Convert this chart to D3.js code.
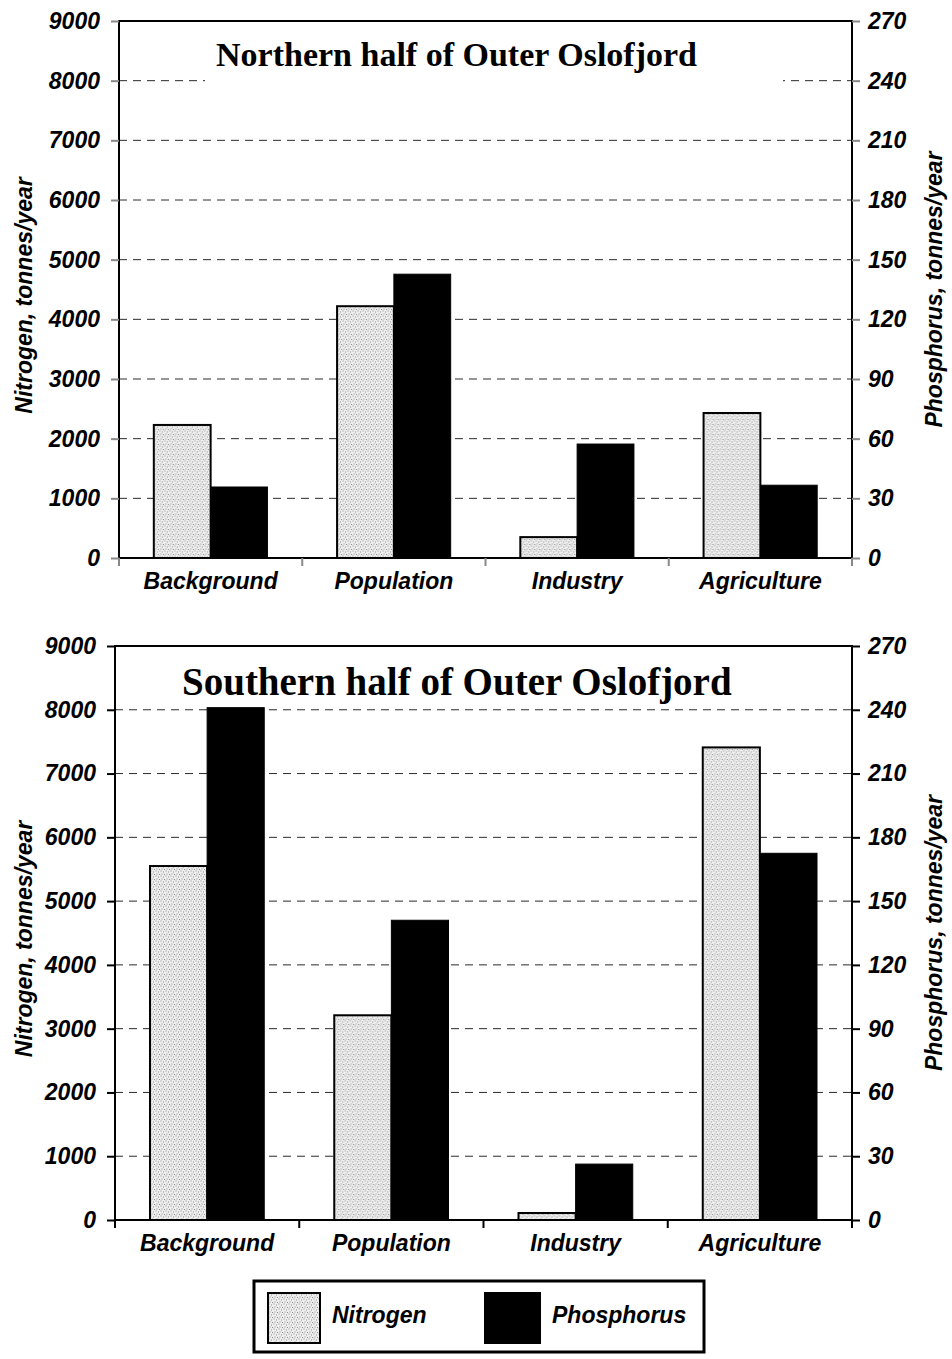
<!DOCTYPE html>
<meta charset="utf-8">
<style type="text/css">
  body {
    margin: 0;
    background: #fff;
  }
  .tick text, .cat text, .axis-title, .legend text {
    font-family: "Liberation Sans", Arial, sans-serif;
    font-weight: bold;
    font-style: italic;
    fill: #000;
  }
  .title {
    font-family: "Liberation Serif", "Times New Roman", serif;
    font-weight: bold;
    fill: #000;
  }
  .grid line {
    stroke: #2a2a2a;
    stroke-width: 1;
    stroke-dasharray: 8 6;
  }
</style>
<body>
<svg id="chart"></svg>
<script src="https://d3js.org/d3.v7.min.js"></script>
<script>
var categories = ["Background", "Population", "Industry", "Agriculture"];
var series = ["Nitrogen", "Phosphorus"];

// Northern half (N on left axis, P on right axis)
var northNitrogen = [2230, 4220, 350, 2430];
var northPhosphorus = [35.7, 142.7, 57.3, 36.6];

// Southern half
var southNitrogen = [5550, 3210, 110, 7410];
var southPhosphorus = [241, 141, 26.3, 172.5];

var nitrogenTicks = [0, 1000, 2000, 3000, 4000, 5000, 6000, 7000, 8000, 9000];
var phosphorusTicks = [0, 30, 60, 90, 120, 150, 180, 210, 240, 270];

var svg = d3.select("#chart")
    .attr("width", 952)
    .attr("height", 1359);

// stipple fill for nitrogen bars
var pat = svg.append("defs").append("pattern")
    .attr("id", "stipple")
    .attr("patternUnits", "userSpaceOnUse")
    .attr("width", 5)
    .attr("height", 5);
pat.append("rect").attr("width", 5).attr("height", 5).attr("fill", "#efefef");
[[0.5, 0.5], [3, 1.5], [1.5, 3.5], [4, 4]].forEach(function(p) {
  pat.append("rect")
      .attr("x", p[0]).attr("y", p[1])
      .attr("width", 1).attr("height", 1)
      .attr("fill", "#8a8a8a");
});

function drawChart(opt) {
  var x = d3.scaleBand()
      .domain(categories)
      .range([opt.left, opt.right])
      .paddingInner(0.38)
      .paddingOuter(0.19);

  var x1 = d3.scaleBand()
      .domain(series)
      .range([0, x.bandwidth()]);

  var y = d3.scaleLinear()
      .domain([0, 9000])
      .range([opt.bottom, opt.top]);

  var y2 = d3.scaleLinear()
      .domain([0, 270])
      .range([opt.bottom, opt.top]);

  var g = svg.append("g");

  // dashed grid
  g.append("g")
      .attr("class", "grid")
    .selectAll("line")
    .data(nitrogenTicks.slice(1, -1))
    .enter().append("line")
      .attr("x1", opt.left)
      .attr("x2", opt.right)
      .attr("y1", function(d) { return y(d); })
      .attr("y2", function(d) { return y(d); });

  // white box behind title
  if (opt.box) {
    g.append("rect")
        .attr("x", opt.box[0])
        .attr("y", opt.box[1])
        .attr("width", opt.box[2])
        .attr("height", opt.box[3])
        .attr("fill", "#fff");
  }

  g.append("text")
      .attr("class", "title")
      .attr("x", opt.titleX)
      .attr("y", opt.titleY)
      .style("font-size", opt.titleSize + "px")
      .text(opt.title);

  // bars
  var groups = g.selectAll(".grp")
      .data(categories)
      .enter().append("g")
      .attr("transform", function(d) { return "translate(" + x(d) + ",0)"; });

  groups.append("rect")
      .attr("x", x1("Nitrogen"))
      .attr("width", x1.bandwidth())
      .attr("y", function(d, i) { return y(opt.nitrogen[i]); })
      .attr("height", function(d, i) { return opt.bottom - y(opt.nitrogen[i]); })
      .attr("fill", "url(#stipple)")
      .attr("stroke", "#000")
      .attr("stroke-width", 2);

  groups.append("rect")
      .attr("x", x1("Phosphorus"))
      .attr("width", x1.bandwidth())
      .attr("y", function(d, i) { return y2(opt.phosphorus[i]); })
      .attr("height", function(d, i) { return opt.bottom - y2(opt.phosphorus[i]); })
      .attr("fill", "#000")
      .attr("stroke", "#000")
      .attr("stroke-width", 1);

  // frame
  g.append("rect")
      .attr("x", opt.left)
      .attr("y", opt.top)
      .attr("width", opt.right - opt.left)
      .attr("height", opt.bottom - opt.top)
      .attr("fill", "none")
      .attr("stroke", "#000")
      .attr("stroke-width", 2);

  // axes
  var left = g.append("g")
      .attr("transform", "translate(" + opt.left + ",0)")
      .call(d3.axisLeft(y).tickValues(nitrogenTicks).tickSize(8).tickPadding(11).tickFormat(d3.format("d")));
  var right = g.append("g")
      .attr("transform", "translate(" + opt.right + ",0)")
      .call(d3.axisRight(y2).tickValues(phosphorusTicks).tickSize(8).tickPadding(8).tickFormat(d3.format("d")));
  [left, right].forEach(function(a) {
    a.select(".domain").remove();
    a.selectAll(".tick line").attr("stroke", opt.tickColor).attr("stroke-width", 2);
    a.selectAll(".tick text").style("font-size", "23px");
  });

  // category labels
  var bottom = g.append("g")
      .attr("class", "cat")
      .attr("transform", "translate(0," + opt.bottom + ")")
      .call(d3.axisBottom(x).tickSize(0).tickPadding(15));
  bottom.select(".domain").remove();
  bottom.selectAll("text").style("font-size", "23px");

  // boundary ticks under the axis
  g.selectAll(".btick")
      .data(d3.range(categories.length + 1))
      .enter().append("line")
      .attr("x1", function(i) { return opt.left + i * x.step(); })
      .attr("x2", function(i) { return opt.left + i * x.step(); })
      .attr("y1", opt.bottom)
      .attr("y2", opt.bottom + 8)
      .attr("stroke", opt.tickColor)
      .attr("stroke-width", 2);

  // axis titles
  var mid = (opt.top + opt.bottom) / 2;
  g.append("text")
      .attr("class", "axis-title")
      .attr("transform", "translate(32," + (mid + 6) + ") rotate(-90)")
      .attr("text-anchor", "middle")
      .style("font-size", "23px")
      .text("Nitrogen, tonnes/year");
  g.append("text")
      .attr("class", "axis-title")
      .attr("transform", "translate(942," + mid + ") rotate(-90)")
      .attr("text-anchor", "middle")
      .style("font-size", "23px")
      .text("Phosphorus, tonnes/year");
}

drawChart({
  left: 119, right: 852, top: 21, bottom: 558,
  nitrogen: northNitrogen, phosphorus: northPhosphorus,
  title: "Northern half of Outer Oslofjord",
  titleX: 216, titleY: 66, titleSize: 34,
  box: [205, 32, 578, 58],
  tickColor: "#888"
});

drawChart({
  left: 115, right: 852, top: 646, bottom: 1220,
  nitrogen: southNitrogen, phosphorus: southPhosphorus,
  title: "Southern half of Outer Oslofjord",
  titleX: 182, titleY: 695, titleSize: 39,
  box: null,
  tickColor: "#000"
});

// legend
var legend = svg.append("g").attr("class", "legend");
legend.append("rect")
    .attr("x", 254).attr("y", 1281)
    .attr("width", 450).attr("height", 71)
    .attr("fill", "#fff")
    .attr("stroke", "#000")
    .attr("stroke-width", 3);

var legendX = [268, 485];
var legendItems = legend.selectAll(".item")
    .data(series)
    .enter().append("g")
    .attr("transform", function(d, i) { return "translate(" + legendX[i] + ",1293)"; });

legendItems.append("rect")
    .attr("width", function(d, i) { return i == 0 ? 52 : 55; })
    .attr("height", 50)
    .attr("fill", function(d, i) { return i == 0 ? "url(#stipple)" : "#000"; })
    .attr("stroke", "#000")
    .attr("stroke-width", 2);

legendItems.append("text")
    .attr("x", function(d, i) { return i == 0 ? 64 : 67; })
    .attr("y", 30)
    .style("font-size", "23px")
    .text(function(d) { return d; });
</script>
</body>
